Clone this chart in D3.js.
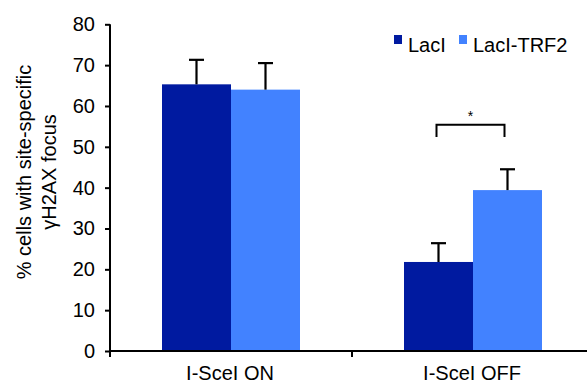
<!DOCTYPE html>
<html>
<head>
<meta charset="utf-8">
<script src="https://cdn.jsdelivr.net/npm/d3@7"></script>
<style>
  body { margin: 0; background: #fff; }
  svg { display: block; font-family: "Liberation Sans", Arial, sans-serif; }
</style>
</head>
<body>
<div id="chart"></div>
<script>
// chart data
let categories = ["I-SceI ON", "I-SceI OFF"];
let series = ["LacI", "LacI-TRF2"];
let colors = ["#001aa0", "#4282ff"];
let lacI = [65.3, 21.8];
let lacITRF2 = [64.0, 39.4];
let lacIErr = [6.0, 4.6];
let lacITRF2Err = [6.5, 5.1];
let yTicks = [0, 10, 20, 30, 40, 50, 60, 70, 80];

function drawChart() {
    let width = 587, height = 385;
    let svg = d3.select("#chart").append("svg")
        .attr("width", width)
        .attr("height", height);

    let x0 = 110, x1 = 594, yBottom = 351, yTop = 24.3;

    let x = d3.scaleBand()
        .domain(categories)
        .range([x0, x1]);
    let xs = d3.scaleBand()
        .domain(series)
        .range([0, 138]);
    let y = d3.scaleLinear()
        .domain([0, 80])
        .range([yBottom, yTop]);

    // build rows from the arrays
    let rows = [];
    categories.forEach((c, i) => {
        rows.push({ cat: c, s: series[0], v: lacI[i], e: lacIErr[i], color: colors[0] });
        rows.push({ cat: c, s: series[1], v: lacITRF2[i], e: lacITRF2Err[i], color: colors[1] });
    });
    let groupOffset = (x.bandwidth() - 138) / 2;
    let barX = d => x(d.cat) + groupOffset + xs(d.s);

    // bars
    svg.selectAll("rect.bar")
        .data(rows)
        .enter()
        .append("rect")
        .attr("class", "bar")
        .attr("x", barX)
        .attr("y", d => y(d.v))
        .attr("width", xs.bandwidth())
        .attr("height", d => y(0) - y(d.v))
        .style("fill", d => d.color);

    // error bars (upper only)
    let err = svg.append("g").attr("stroke", "#000").attr("stroke-width", 2.2);
    rows.forEach(d => {
        let cx = barX(d) + xs.bandwidth() / 2;
        err.append("line")
            .attr("x1", cx).attr("x2", cx)
            .attr("y1", y(d.v)).attr("y2", y(d.v + d.e));
        err.append("line")
            .attr("x1", cx - 7.5).attr("x2", cx + 7.5)
            .attr("y1", y(d.v + d.e)).attr("y2", y(d.v + d.e));
    });

    // significance bracket for I-SceI OFF
    let offA = barX(rows[2]) + xs.bandwidth() / 2 - 2;
    let offB = barX(rows[3]) + xs.bandwidth() / 2 - 3;
    svg.append("path")
        .attr("d", `M${offA},${y(52.4)}V${y(55.4)}H${offB}V${y(52.4)}`)
        .attr("fill", "none")
        .attr("stroke", "#000")
        .attr("stroke-width", 2);
    svg.append("text")
        .attr("x", (offA + offB) / 2)
        .attr("y", y(55.4) - 4)
        .attr("text-anchor", "middle")
        .style("font-size", "14px")
        .text("*");

    // y axis
    let yAxis = svg.append("g")
        .attr("transform", `translate(${x0},0)`)
        .call(d3.axisLeft(y).tickValues(yTicks).tickSize(5).tickPadding(10).tickSizeOuter(0));
    yAxis.select(".domain").attr("stroke-width", 2).attr("d", `M0,${yTop}V${yBottom}`);
    yAxis.selectAll(".tick line").attr("stroke-width", 2);
    yAxis.selectAll(".tick text")
        .style("font-size", "20px")
        .style("font-family", "Liberation Sans, Arial, sans-serif")
        .attr("fill", "#000");

    // x axis: ticks at band boundaries
    let xAxis = svg.append("g").attr("transform", `translate(0,${yBottom})`);
    xAxis.append("line")
        .attr("x1", x0 - 1).attr("x2", width)
        .attr("stroke", "#000").attr("stroke-width", 2);
    let bounds = categories.map(c => x(c));
    xAxis.selectAll("line.bt")
        .data(bounds)
        .enter()
        .append("line")
        .attr("class", "bt")
        .attr("x1", d => d).attr("x2", d => d)
        .attr("y1", 0).attr("y2", 6)
        .attr("stroke", "#000").attr("stroke-width", 2);
    xAxis.selectAll("text")
        .data(categories)
        .enter()
        .append("text")
        .attr("x", d => x(d) + x.bandwidth() / 2 - 1)
        .attr("y", 29)
        .attr("text-anchor", "middle")
        .style("font-size", "20px")
        .text(d => d);

    // y axis title
    let title = svg.append("text")
        .attr("transform", "translate(24,172) rotate(-90)")
        .attr("text-anchor", "middle")
        .style("font-size", "20px");
    title.append("tspan").attr("x", 0).attr("dy", "0.35em").text("% cells with site-specific");
    title.append("tspan").attr("x", 0).attr("dy", 25).text("γH2AX focus");

    // legend
    let legendX = [394, 459];
    let legend = svg.selectAll("g.legend")
        .data(series)
        .enter()
        .append("g")
        .attr("class", "legend")
        .attr("transform", (d, i) => `translate(${legendX[i]},35)`);
    legend.append("rect")
        .attr("width", 8).attr("height", 9)
        .style("fill", (d, i) => colors[i]);
    legend.append("text")
        .attr("x", 14)
        .attr("y", 16.5)
        .style("font-size", "20px")
        .text(d => d);
}

drawChart();
</script>
</body>
</html>
